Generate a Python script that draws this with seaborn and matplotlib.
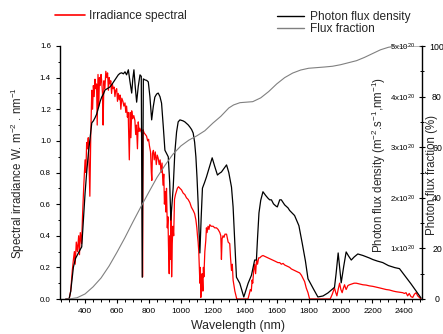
import matplotlib
matplotlib.use("Agg")
import matplotlib.pyplot as plt
import numpy as np
import seaborn as sns
from matplotlib.lines import Line2D
from matplotlib.ticker import FuncFormatter, MultipleLocator

sns.set_theme(style="ticks")
plt.rcParams["font.family"] = ["Liberation Sans", "DejaVu Sans"]
plt.rcParams["mathtext.fontset"] = "custom"
plt.rcParams["mathtext.rm"] = "Liberation Sans"
plt.rcParams["mathtext.default"] = "regular"

# spectral irradiance (W m-2 nm-1)
irr_wl = [280, 300, 310, 320, 327, 333, 338, 345, 352, 360, 365, 370, 378, 385, 392,
          400, 405, 410, 415, 420, 425, 430, 436, 442, 447, 452, 457, 462, 467, 472,
          476, 481, 486, 490, 495, 500, 504, 509, 513, 518, 524, 530, 536, 541, 546,
          551, 556, 561, 566, 571, 576, 582, 587, 592, 598, 603, 608, 614, 619, 624,
          630, 637, 643, 650, 655, 660, 665, 670, 677, 683, 687, 692, 698, 705, 712,
          717, 722, 728, 733, 738, 743, 750, 755, 758, 760, 763, 770, 778, 785, 792,
          798, 803, 810, 815, 818, 822, 828, 833, 840, 846, 852, 858, 864, 870, 876,
          882, 888, 893, 897, 902, 906, 910, 915, 919, 923, 927, 931, 935, 939, 942,
          946, 950, 955, 960, 966, 972, 978, 985, 994, 1004, 1014, 1025, 1035, 1045, 1056,
          1066, 1077, 1086, 1094, 1100, 1104, 1108, 1112, 1116, 1119, 1122, 1125, 1129, 1133, 1138,
          1141, 1144, 1150, 1156, 1160, 1164, 1170, 1176, 1181, 1190, 1202, 1212, 1223, 1233, 1244,
          1250, 1254, 1258, 1264, 1270, 1276, 1286, 1296, 1306, 1311, 1317, 1322, 1327, 1333, 1338,
          1345, 1350, 1420, 1428, 1435, 1441, 1446, 1450, 1456, 1462, 1468, 1474, 1480, 1487, 1494,
          1504, 1514, 1525, 1535, 1545, 1556, 1567, 1577, 1588, 1598, 1608, 1619, 1629, 1640, 1650,
          1661, 1671, 1681, 1692, 1702, 1712, 1723, 1733, 1744, 1755, 1765, 1775, 1785, 1796, 1806,
          1935, 1948, 1962, 1970, 1977, 1985, 1994, 2002, 2010, 2018, 2025, 2031, 2035, 2046, 2056,
          2070, 2085, 2098, 2120, 2140, 2160, 2181, 2202, 2225, 2245, 2264, 2285, 2306, 2330, 2348,
          2370, 2389, 2400, 2410, 2420, 2430, 2441, 2452, 2462, 2473, 2483, 2494, 2504]
irr_val = [0, 0, 0.05, 0.18, 0.25, 0.30, 0.22, 0.36, 0.30, 0.40, 0.28, 0.42, 0.35, 0.55, 0.72,
           0.88, 0.80, 0.99, 0.95, 1.02, 0.85, 0.65, 1.05, 1.32, 1.20, 1.35, 1.28, 1.39, 1.33, 1.36,
           1.10, 1.42, 1.22, 1.40, 1.35, 1.42, 1.38, 1.30, 1.10, 1.38, 1.33, 1.44, 1.40, 1.43, 1.32,
           1.40, 1.36, 1.38, 1.30, 1.36, 1.33, 1.34, 1.28, 1.32, 1.33, 1.25, 1.30, 1.26, 1.29, 1.20,
           1.27, 1.25, 1.22, 1.24, 1.18, 1.22, 1.15, 1.18, 0.88, 1.18, 1.02, 1.19, 1.14, 1.16, 1.13,
           1.04, 1.10, 0.95, 1.12, 1.06, 1.08, 1.06, 1.05, 1.02, 0.14, 1.07, 1.05, 1.04, 1.03, 1.00,
           1.01, 0.97, 0.93, 0.80, 0.75, 0.92, 0.94, 0.88, 0.93, 0.85, 0.91, 0.89, 0.85, 0.88, 0.80,
           0.86, 0.72, 0.79, 0.60, 0.68, 0.55, 0.70, 0.45, 0.52, 0.30, 0.16, 0.40, 0.25, 0.55, 0.14,
           0.35, 0.46, 0.40, 0.63, 0.66, 0.68, 0.70, 0.71, 0.70, 0.69, 0.67, 0.66, 0.64, 0.63, 0.61,
           0.58, 0.56, 0.54, 0.50, 0.45, 0.40, 0.36, 0.30, 0.18, 0.10, 0.20, 0.01, 0.12, 0.16, 0.05,
           0.20, 0.14, 0.30, 0.37, 0.45, 0.42, 0.46, 0.44, 0.47, 0.46, 0.46, 0.45, 0.45, 0.44, 0.42,
           0.40, 0.25, 0.38, 0.40, 0.39, 0.41, 0.41, 0.36, 0.35, 0.26, 0.18, 0.22, 0.12, 0.08, 0.05,
           0.02, 0, 0, 0.03, 0.06, 0.05, 0.12, 0.10, 0.18, 0.22, 0.16, 0.25, 0.22, 0.26, 0.26,
           0.27, 0.275, 0.27, 0.265, 0.26, 0.255, 0.25, 0.245, 0.24, 0.235, 0.23, 0.23, 0.22, 0.225, 0.215,
           0.21, 0.205, 0.20, 0.19, 0.185, 0.18, 0.175, 0.17, 0.165, 0.15, 0.13, 0.11, 0.07, 0.04, 0,
           0, 0.03, 0.07, 0.04, 0.02, 0.06, 0.10, 0.06, 0.04, 0.07, 0.09, 0.07, 0.06, 0.085, 0.09,
           0.095, 0.10, 0.10, 0.095, 0.09, 0.088, 0.083, 0.08, 0.075, 0.07, 0.065, 0.06, 0.057, 0.05, 0.046,
           0.043, 0.04, 0.035, 0.04, 0.02, 0.035, 0.015, 0.01, 0.03, 0.04, 0.02, 0.01, 0]

# photon flux density, in units of 1e20 m-2 s-1 nm-1
flux_wl = [280, 300, 310, 327, 340, 358, 370, 379, 390, 400, 410, 421, 432, 442, 452,
           462, 472, 483, 494, 504, 515, 525, 540, 556, 570, 587, 598, 608, 619, 629,
           640, 650, 660, 671, 681, 692, 699, 706, 714, 723, 733, 744, 752, 758, 765,
           775, 786, 796, 806, 817, 827, 837, 848, 858, 869, 879, 890, 900, 910, 921,
           930, 937, 945, 952, 962, 973, 983, 994, 1004, 1014, 1025, 1035, 1046, 1056, 1067,
           1077, 1086, 1094, 1101, 1108, 1113, 1119, 1127, 1135, 1148, 1160, 1178, 1196, 1212, 1229,
           1240, 1254, 1270, 1286, 1300, 1317, 1327, 1338, 1348, 1369, 1394, 1421, 1442, 1462, 1473,
           1480, 1489, 1500, 1514, 1530, 1546, 1556, 1567, 1580, 1594, 1604, 1619, 1629, 1650, 1671,
           1681, 1712, 1739, 1760, 1780, 1796, 1830, 1858, 1890, 1921, 1962, 1972, 1985, 2004, 2020,
           2035, 2050, 2067, 2085, 2108, 2140, 2181, 2202, 2230, 2264, 2300, 2340, 2369, 2400, 2441,
           2470, 2504]
flux_1e20 = [0, 0, 0.15, 0.63, 0.80, 0.91, 0.98, 1.03, 1.6, 2.09, 2.5, 2.89, 3.2, 3.48, 3.52,
             3.58, 3.65, 3.77, 3.90, 3.99, 4.05, 4.13, 4.16, 4.19, 4.25, 4.33, 4.38, 4.43, 4.46, 4.47,
             4.45, 4.49, 4.43, 4.53, 4.3, 4.07, 4.35, 4.53, 4.2, 3.89, 4.2, 4.43, 4.40, 0.43, 4.35,
             4.33, 4.32, 4.29, 4.0, 3.54, 3.8, 3.99, 4.05, 4.07, 4.0, 3.87, 3.4, 2.94, 2.88, 2.81,
             2.3, 1.56, 1.9, 2.21, 2.89, 3.3, 3.50, 3.54, 3.53, 3.52, 3.50, 3.47, 3.44, 3.40, 3.35,
             3.28, 3.1, 2.81, 2.4, 1.90, 1.4, 0.91, 1.6, 2.19, 2.30, 2.41, 2.6, 2.79, 2.62, 2.45,
             2.48, 2.51, 2.58, 2.65, 2.50, 2.21, 1.82, 1.1, 0.43, 0.31, 0.04, 0.31, 0.47, 0.77, 0.77,
             1.2, 1.70, 1.95, 2.12, 2.05, 1.99, 1.96, 1.96, 1.88, 1.84, 1.82, 1.96, 1.96, 1.86, 1.80,
             1.75, 1.65, 1.45, 1.1, 0.75, 0.40, 0.2, 0.04, 0.06, 0.12, 0.23, 0.5, 0.91, 0.32, 0.65,
             0.93, 0.85, 0.77, 0.83, 0.89, 0.86, 0.81, 0.78, 0.75, 0.72, 0.66, 0.62, 0.60, 0.47, 0.30,
             0.17, 0.02]

# cumulative photon flux fraction (%)
frac_wl = [280, 300, 350, 400, 450, 500, 550, 600, 650, 700, 750, 800, 850, 900, 950,
           1000, 1050, 1100, 1150, 1200, 1250, 1300, 1330, 1370, 1450, 1500, 1550, 1600, 1650, 1700,
           1750, 1800, 1900, 1950, 2000, 2050, 2100, 2150, 2200, 2250, 2300, 2350, 2500]
frac_pct = [0, 0, 0.5, 2.0, 4.8, 8.3, 13.0, 18.5, 24.3, 30.5, 36.5, 42.3, 48.0, 52.8, 57.2,
            60.5, 62.8, 64.5, 66.5, 69.5, 72.2, 75.5, 76.7, 77.6, 78.0, 79.5, 82.0, 85.0, 87.5, 89.3,
            90.5, 91.2, 91.7, 92.0, 92.6, 93.4, 94.2, 95.5, 97.0, 98.5, 99.5, 100, 100]

IRR_COLOR = "#FF0000"
FLUX_COLOR = "#000000"
FRAC_COLOR = "#808080"
FS_LAB = 8.6
FS_TICK = 6

fig = plt.figure(figsize=(4.43, 3.34), dpi=100)
ax = fig.add_axes([60 / 443, 35 / 334, 362 / 443, 253 / 334])
ax2 = ax.twinx()
ax3 = ax.twinx()

sns.lineplot(x=irr_wl, y=irr_val, ax=ax, color=IRR_COLOR, lw=0.9,
             estimator=None, sort=False)
sns.lineplot(x=flux_wl, y=flux_1e20, ax=ax2, color=FLUX_COLOR, lw=0.9,
             estimator=None, sort=False)
sns.lineplot(x=frac_wl, y=frac_pct, ax=ax3, color=FRAC_COLOR, lw=0.8,
             estimator=None, sort=False)

ax.set_xlim(243, 2510)
ax.set_ylim(0, 1.6)
ax2.set_ylim(0, 5)
ax3.set_ylim(0, 100)

for a in (ax, ax2, ax3):
    a.spines["top"].set_visible(False)
    a.set_xlabel("")
    a.set_ylabel("")
    for s in a.spines.values():
        s.set_linewidth(1.0)
        s.set_color("black")
ax.spines["right"].set_visible(False)
ax2.spines["left"].set_visible(False)
ax2.spines["bottom"].set_visible(False)
for s in ax3.spines.values():
    s.set_visible(False)

ax.set_xticks(range(400, 2401, 200))
ax.xaxis.set_minor_locator(MultipleLocator(50))
ax.yaxis.set_major_locator(MultipleLocator(0.2))
ax.yaxis.set_minor_locator(MultipleLocator(0.1))
ax.yaxis.set_major_formatter(FuncFormatter(lambda v, p: f"{v:.1f}"))
ax.tick_params(axis="both", which="major", direction="out", length=3, width=0.8,
               labelsize=FS_TICK, colors="black")
ax.tick_params(axis="x", which="major", pad=3.5)
ax.tick_params(axis="y", which="major", pad=3.5, labelsize=FS_TICK - 0.3)
ax.tick_params(axis="both", which="minor", direction="out", length=1.8, width=0.7,
               colors="black")

ax2.yaxis.set_major_locator(MultipleLocator(1))
ax2.yaxis.set_minor_locator(MultipleLocator(0.5))
ax2.yaxis.set_major_formatter(
    FuncFormatter(lambda v, p: f"{int(round(v))}x10$^{{20}}$" if v > 0 else ""))
ax2.tick_params(axis="y", which="major", direction="inout", length=4.5, width=0.8,
                labelsize=FS_TICK - 0.3, pad=-7, colors="black")
ax2.tick_params(axis="y", which="minor", direction="inout", length=3, width=0.7,
                colors="black")
for lab in ax2.get_yticklabels():
    lab.set_horizontalalignment("right")

ax3.yaxis.set_major_locator(MultipleLocator(20))
ax3.yaxis.set_minor_locator(MultipleLocator(10))
ax3.tick_params(axis="y", which="both", length=0, labelsize=FS_TICK + 0.3, pad=10.8,
                colors="black")
for lab in ax3.get_yticklabels():
    lab.set_horizontalalignment("center")

fig.text(238 / 443, 1 - 326 / 334, "Wavelength (nm)", ha="center", va="center",
         fontsize=FS_LAB + 0.3)
fig.text(18 / 443, 1 - 173 / 334, r"Spectral irradiance W. m$^{-2}$ . nm$^{-1}$",
         rotation=90, ha="center", va="center", fontsize=FS_LAB - 0.3)
fig.text(379 / 443, 1 - 165 / 334, r"Photon flux density (m$^{-2}$.s$^{-1}$,nm$^{-1}$)",
         rotation=90, ha="center", va="center", fontsize=FS_LAB - 0.3)
fig.text(432 / 443, 1 - 175 / 334, "Photon flux fraction (%)",
         rotation=90, ha="center", va="center", fontsize=FS_LAB - 0.3)

h1 = [Line2D([], [], color=IRR_COLOR, lw=1.2)]
fig.legend(h1, ["Irradiance spectral"], loc="center left",
           bbox_to_anchor=(55 / 443, 1 - 16.5 / 334), frameon=False, fontsize=FS_LAB,
           handlelength=2.5, handletextpad=0.35, borderpad=0, borderaxespad=0)
h2 = [Line2D([], [], color=FLUX_COLOR, lw=1.0), Line2D([], [], color=FRAC_COLOR, lw=1.0)]
fig.legend(h2, ["Photon flux density", "Flux fraction"], loc="upper left",
           bbox_to_anchor=(277 / 443, 1 - 11 / 334), frameon=False, fontsize=FS_LAB,
           handlelength=2.3, handletextpad=0.45, borderpad=0, borderaxespad=0,
           labelspacing=0.0)

fig.savefig("out.png", dpi=100)
